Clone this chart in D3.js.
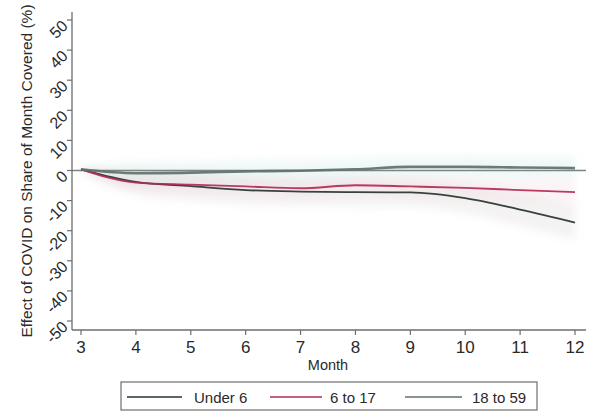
<!DOCTYPE html>
<html>
<head>
<meta charset="utf-8">
<script src="https://cdn.jsdelivr.net/npm/d3@7/dist/d3.min.js"></script>
<style>
  html, body { margin: 0; padding: 0; background: #fff; }
  svg { display: block; font-family: "Liberation Sans", Arial, Helvetica, sans-serif; }
</style>
</head>
<body>
<svg id="chart" width="593" height="414"></svg>
<script>
// Months after the start of the series
const months = [3, 4, 5, 6, 7, 8, 9, 10, 11, 12];

// Estimated effect (percentage points) by age group
const under6   = [0.4, -3.8, -5.2, -6.5, -7.0, -7.2, -7.3, -9.2, -13.0, -17.3];
const age6to17 = [0.4, -4.0, -4.7, -5.3, -5.9, -4.9, -5.3, -5.8, -6.5, -7.2];
const age18to59 = [0.4, -0.9, -0.7, -0.3, -0.1, 0.4, 1.2, 1.2, 1.0, 0.8];

// Half-width of the confidence interval for each group
const ciUnder6   = [0.6, 4.0, 4.5, 4.5, 4.5, 4.5, 4.5, 4.8, 5.2, 5.6];
const ci6to17    = [0.6, 3.0, 3.0, 3.0, 3.0, 3.0, 3.0, 3.2, 3.4, 3.6];
const ci18to59   = [0.6, 3.5, 3.5, 3.5, 3.5, 3.5, 3.5, 3.5, 3.5, 3.5];

const seriesNames = ["Under 6", "6 to 17", "18 to 59"];
const yTicks = [-50, -40, -30, -20, -10, 0, 10, 20, 30, 40, 50];
const xTicks = months;

const series = [
  { name: seriesNames[0], values: under6,    ci: ciUnder6, color: "#27332f", band: "#c9bcc0", width: 1.8 },
  { name: seriesNames[1], values: age6to17,  ci: ci6to17,  color: "#b42a55", band: "#ebc3cf", width: 1.8 },
  { name: seriesNames[2], values: age18to59, ci: ci18to59, color: "#5f716b", band: "#b6ddd5", width: 2.6 }
];

const svg = d3.select("#chart");

const x = d3.scaleLinear().domain([3, 12]).range([81, 575]);
const y = d3.scaleLinear().domain([-50, 50]).range([321, 20]);

const axisLeftX = 72, axisBottomY = 330, plotRight = 586;

// soft blur for the interval bands
const defs = svg.append("defs");
defs.append("filter").attr("id", "soft")
  .attr("x", "-20%").attr("y", "-50%").attr("width", "140%").attr("height", "200%")
  .append("feGaussianBlur").attr("stdDeviation", 4);

// confidence bands
const area = d3.area()
  .x((d, i) => x(months[i]))
  .y0(d => y(d.lo))
  .y1(d => y(d.hi))
  .curve(d3.curveMonotoneX);

const bandG = svg.append("g").attr("filter", "url(#soft)");
series.forEach(s => {
  const pts = s.values.map((v, i) => ({ lo: v - s.ci[i], hi: v + s.ci[i] }));
  bandG.append("path")
    .attr("d", area(pts))
    .attr("fill", s.band)
    .attr("opacity", 0.2);
});

// reference line at zero
svg.append("line")
  .attr("x1", axisLeftX).attr("x2", plotRight)
  .attr("y1", y(0)).attr("y2", y(0))
  .attr("stroke", "#7c8582").attr("stroke-width", 1.4);

// series lines
const line = d3.line()
  .x((d, i) => x(months[i]))
  .y(d => y(d))
  .curve(d3.curveMonotoneX);

series.forEach(s => {
  svg.append("path")
    .attr("d", line(s.values))
    .attr("fill", "none")
    .attr("stroke", s.color)
    .attr("stroke-width", s.width)
    .attr("stroke-linejoin", "round")
    .attr("opacity", 0.92);
});

// y axis
svg.append("line")
  .attr("x1", axisLeftX).attr("x2", axisLeftX)
  .attr("y1", 12).attr("y2", axisBottomY)
  .attr("stroke", "#6e6e6e").attr("stroke-width", 1.3);

const yg = svg.append("g");
yTicks.forEach(t => {
  yg.append("line")
    .attr("x1", axisLeftX - 5).attr("x2", axisLeftX)
    .attr("y1", y(t)).attr("y2", y(t))
    .attr("stroke", "#6e6e6e").attr("stroke-width", 1.2);
  yg.append("text")
    .attr("transform", `translate(${axisLeftX - 7},${y(t) + 3}) rotate(-45)`)
    .attr("text-anchor", "end")
    .attr("dominant-baseline", "central")
    .attr("font-size", 16)
    .attr("fill", "#2a2a2a")
    .text(t < 0 ? "-" + Math.abs(t) : String(t));
});

// x axis
svg.append("line")
  .attr("x1", axisLeftX).attr("x2", plotRight)
  .attr("y1", axisBottomY).attr("y2", axisBottomY)
  .attr("stroke", "#6e6e6e").attr("stroke-width", 1.3);

const xg = svg.append("g");
xTicks.forEach(t => {
  xg.append("line")
    .attr("x1", x(t)).attr("x2", x(t))
    .attr("y1", axisBottomY).attr("y2", axisBottomY + 5)
    .attr("stroke", "#6e6e6e").attr("stroke-width", 1.2);
  xg.append("text")
    .attr("x", x(t)).attr("y", 353)
    .attr("text-anchor", "middle")
    .attr("font-size", 17)
    .attr("fill", "#2a2a2a")
    .text(t);
});

// axis titles
svg.append("text")
  .attr("x", 328).attr("y", 370)
  .attr("text-anchor", "middle")
  .attr("font-size", 14.5)
  .attr("fill", "#2a2a2a")
  .text("Month");

svg.append("text")
  .attr("transform", "translate(32,171) rotate(-90)")
  .attr("text-anchor", "middle")
  .attr("font-size", 15.5)
  .attr("fill", "#2a2a2a")
  .text("Effect of COVID on Share of Month Covered (%)");

// legend
const legend = svg.append("g");
legend.append("rect")
  .attr("x", 121).attr("y", 382).attr("width", 416).attr("height", 28)
  .attr("fill", "#fff").attr("stroke", "#6e6e6e").attr("stroke-width", 1.2);

const legendItems = [
  { s: series[0], x1: 127, x2: 182, tx: 194 },
  { s: series[1], x1: 270, x2: 322, tx: 330 },
  { s: series[2], x1: 405, x2: 462, tx: 472 }
];
legendItems.forEach(it => {
  legend.append("line")
    .attr("x1", it.x1).attr("x2", it.x2)
    .attr("y1", 397).attr("y2", 397)
    .attr("stroke", it.s.color)
    .attr("stroke-width", it.s === series[2] ? 1.4 : 1.6);
  legend.append("text")
    .attr("x", it.tx).attr("y", 402.5)
    .attr("font-size", 15)
    .attr("fill", "#2a2a2a")
    .text(it.s.name);
});
</script>
</body>
</html>
